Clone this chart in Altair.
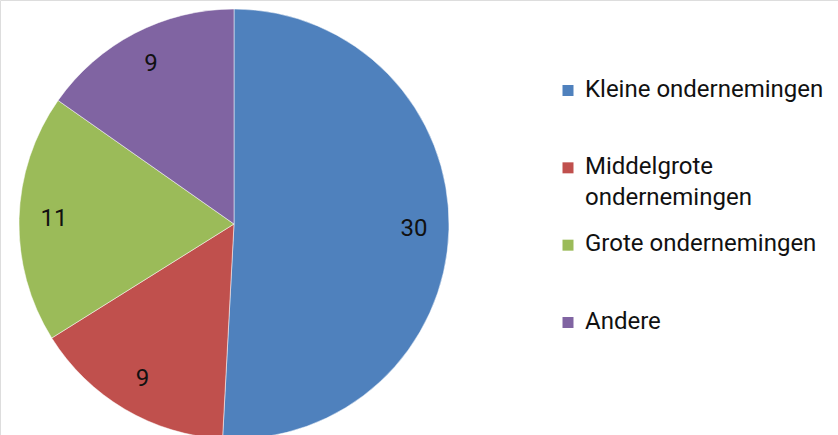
import altair as alt
import pandas as pd

categories = ["Kleine ondernemingen", "Middelgrote ondernemingen", "Grote ondernemingen", "Andere"]
legend_labels = ["Kleine ondernemingen", "Middelgrote\nondernemingen", "Grote ondernemingen", "Andere"]
values = [30, 9, 11, 9]
colors = ["#4F81BD", "#C0504D", "#9BBB59", "#8064A2"]

df = pd.DataFrame({
    "cat": categories,
    "label": legend_labels,
    "value": values,
    "idx": list(range(len(categories))),
})

color = alt.Color("cat:N", scale=alt.Scale(domain=categories, range=colors), legend=None)
cx, cy, R = 234, 224, 215

base = alt.Chart(df)

pie = base.mark_arc(outerRadius=R, stroke="white", strokeWidth=0.5).encode(
    theta=alt.Theta("value:Q", stack=True),
    color=color,
    order=alt.Order("idx:Q"),
    x=alt.value(cx),
    y=alt.value(cy),
)

labels = base.mark_text(radius=180, fontSize=24, font="Roboto", color="#111111").encode(
    theta=alt.Theta("value:Q", stack=True),
    order=alt.Order("idx:Q"),
    text=alt.Text("value:Q"),
    x=alt.value(cx),
    y=alt.value(cy),
)

ypos = alt.Y("cat:N", scale=alt.Scale(type="point", domain=categories, range=[90.5, 322.5], padding=0), axis=None)

leg_sq = base.mark_square(size=121, opacity=1).encode(
    x=alt.value(568),
    y=ypos,
    color=color,
)

leg_txt = base.mark_text(align="left", baseline="top", dy=-13, fontSize=24, font="Roboto",
                         lineBreak="\n", lineHeight=31, color="#111111").encode(
    x=alt.value(585),
    y=ypos,
    text="label:N",
)

chart = alt.layer(pie, labels, leg_sq, leg_txt).properties(
    width=838, height=435, padding=0, autosize=alt.AutoSizeParams(type="none")
).configure_view(stroke=None).configure(background="white")

chart.save("out.html", embed_options={"renderer": "svg", "actions": False})
